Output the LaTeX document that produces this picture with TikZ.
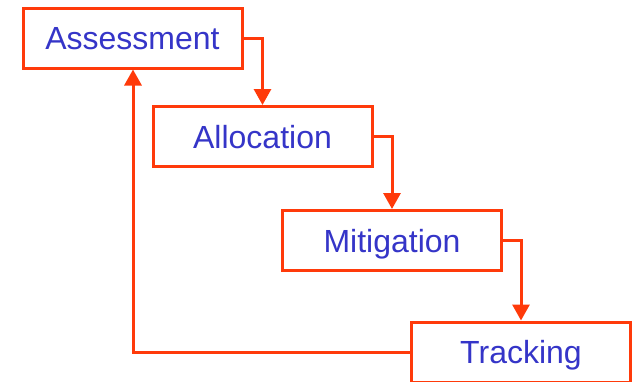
\documentclass[tikz,border=0pt]{standalone}
\usepackage{fontspec}
\setmainfont{Liberation Sans}
\usetikzlibrary{arrows.meta}
\definecolor{flowred}{HTML}{FF3A0A}
\definecolor{flowblue}{HTML}{3535C8}
\tikzset{
  stage/.style={draw=flowred, line width=3pt, fill=white, minimum width=219pt,
    minimum height=60pt, inner sep=0pt, text height=23pt, text depth=0pt,
    font=\fontsize{32}{36}\selectfont, text=flowblue},
  link/.style={draw=flowred, line width=3pt,
    -{Triangle[length=16pt,width=17pt]}},
}
\begin{document}
\begin{tikzpicture}[x=1pt,y=-1pt]
  \useasboundingbox (0,0) rectangle (633,381);
  \node[stage] (assess) at (132.5,38) {Assessment};
  \node[stage] (alloc)  at (262.5,136.5) {Allocation};
  \node[stage] (mitig)  at (392,240.5) {Mitigation};
  \node[stage] (track)  at (521,352) {Tracking};
  % forward chain: right side of each stage down onto the next one
  \draw[link] (assess.east) -| (alloc.north);
  \draw[link] (alloc.east)  -| (mitig.north);
  \draw[link] (mitig.east)  -| (track.north);
  % feedback from tracking back up to assessment
  \coordinate (back) at (133,352);
  \draw[link] (track.west) -- (back) -- (back |- assess.south);
\end{tikzpicture}
\end{document}
